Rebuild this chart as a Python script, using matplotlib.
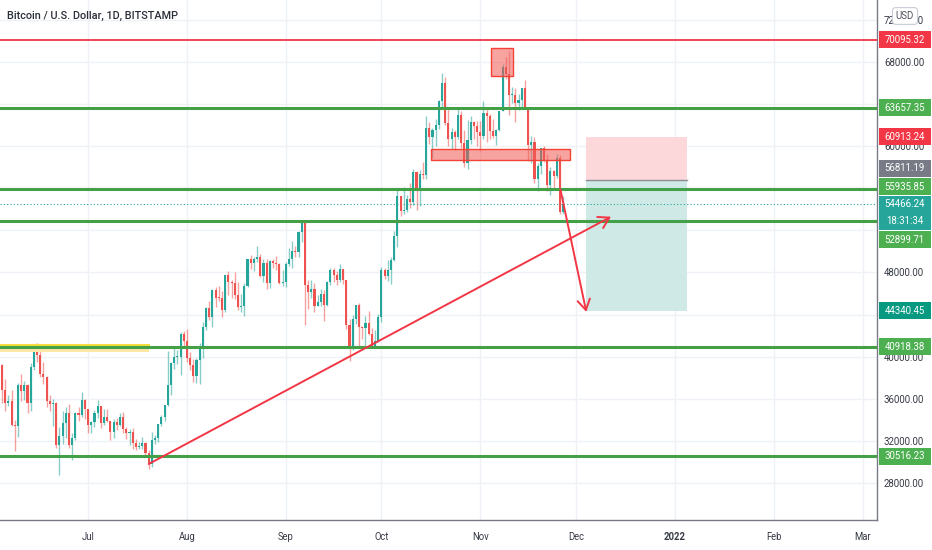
import numpy as np
import pandas as pd
import matplotlib
matplotlib.use('Agg')
import matplotlib.pyplot as plt
import matplotlib.dates as mdates
from matplotlib.patches import Rectangle
from matplotlib import font_manager

# daily BTC/USD candles, Jun 2 - Nov 27 2021
opens = [36700, 37600, 39250, 36850, 35550, 35800, 33550, 33400, 37350, 36700, 37340, 35550, 39020, 40520, 40150,
         38350, 38090, 35820, 35490, 35600, 31640, 32500, 33690, 34660, 31600, 32240, 34650, 34440, 35870,
         35040, 33540, 33820, 34660, 35310, 33700, 34230, 33860, 32880, 33800, 33510, 34260, 33090, 32730, 32820,
         31780, 31420, 31520, 31780, 30840, 29800, 32110, 32310, 33590, 34260, 35380, 37300, 39430, 40000, 40000, 42200,
         41470, 39900, 39170, 38180, 39700, 40900, 42800, 44600, 43800, 46300, 45600, 45570, 44430, 47800, 47100,
         47000, 45900, 44700, 44800, 46700, 49300, 48900, 49300, 49500, 47700, 48900, 47000, 49100, 48900, 48800, 47000,
         47100, 48800, 49300, 50000, 49900, 51800, 52700, 46800, 46100, 46400, 44800, 45200, 46000, 44900, 47100,
         48200, 47800, 47300, 48300, 47300, 43000, 40700, 43600, 44900, 42800, 42700, 43200, 42200, 41000, 41500,
         43800, 48200, 47700, 48200, 49200, 51500, 55300, 53800, 53900, 55000, 54700, 57500, 56000, 57400, 57300,
         61700, 60900, 61500, 62000, 64300, 66000, 62200, 60700, 61300, 60900, 63000, 60300, 58400, 60600, 62300, 61900,
         61300, 61000, 63200, 62900, 61400, 61000, 61500, 63300, 67500, 66900, 64900, 64900, 64100, 64400, 65500,
         63600, 60100, 60400, 56900, 58100, 59800, 58700, 56300, 57600, 57200, 58900, 53700]
highs = [38200, 39500, 39300, 37900, 36400, 36800, 34000, 37500, 38400, 37700, 37450, 39400, 41000, 41300, 40500,
         39500, 38200, 36400, 36000, 35700, 33300, 34800, 35200, 35500, 32700, 34700, 35200, 36600, 36000,
         35050, 33900, 34900, 35900, 35310, 35000, 35000, 33900, 34100, 34200, 34600, 34700, 33300, 33100, 33200,
         32200, 31900, 32400, 31900, 31100, 32800, 32600, 33600, 34500, 35400, 40500, 39500, 40900, 40600, 42300, 42400,
         42600, 40400, 39800, 39900, 41300, 43300, 44700, 45300, 46400, 46600, 46700, 46200, 47800, 48100, 47300,
         48000, 47100, 46000, 47000, 49300, 49700, 49500, 50500, 49800, 49300, 49300, 49200, 49300, 49600, 48900,
         48200, 49000, 50300, 51000, 50500, 51900, 52800, 52900, 47300, 47300, 47000, 45900, 46400, 46300, 47200,
         48400, 48400, 48100, 48800, 48300, 47300, 43600, 44000, 44900, 45100, 42900, 43900, 44300, 42700, 42500,
         44100, 48500, 48400, 49200, 49500, 51900, 55800, 55300, 56100, 55400, 56500, 57800, 57600, 57700, 58500,
         62900, 62300, 61700, 62600, 64400, 67000, 66600, 63700, 61700, 61500, 63700, 63300, 61500, 62500, 62900, 62400,
         62400, 62400, 64300, 63500, 63100, 62600, 61600, 63300, 67800, 68500, 69000, 65600, 65500, 65000, 65500,
         66300, 63600, 61000, 60900, 58400, 59800, 60000, 59300, 58000, 57700, 59300, 59200, 55300]
lows = [35900, 37200, 35600, 34800, 35300, 33400, 31000, 32400, 35800, 35900, 34600, 34800, 38750, 39500, 38100,
        37400, 35200, 34800, 33400, 31300, 28800, 31700, 32300, 31300, 30200, 32100, 33900, 34300, 34100,
        32700, 32700, 33300, 34200, 33200, 33500, 33800, 32100, 32300, 33000, 33400, 32700, 32200, 31600, 31200,
        31100, 31200, 31200, 30500, 29300, 29500, 31700, 31900, 33400, 33900, 35300, 36400, 38800, 39300, 38300, 41000,
        39500, 38700, 37600, 37500, 37400, 39900, 42500, 43500, 42800, 44700, 45300, 43800, 44200, 45900, 45600,
        45500, 44400, 44200, 43900, 46600, 48300, 48100, 49000, 47600, 47100, 46400, 46500, 48400, 48200, 46900,
        46700, 46600, 48600, 48400, 49500, 49500, 50900, 43000, 44500, 45600, 44200, 44800, 44800, 43400, 44800,
        46800, 47100, 46800, 47100, 46900, 42600, 39600, 40600, 43100, 40900, 41700, 40800, 42100, 40900, 40800,
        41400, 43300, 47400, 47200, 46900, 49100, 50400, 53400, 53600, 53700, 54100, 54400, 53900, 54300, 56900,
        56900, 60200, 58900, 60000, 61600, 63500, 62000, 60000, 59700, 59600, 60700, 59800, 58000, 57800, 60200, 60700,
        60000, 59500, 60700, 60400, 60700, 60800, 60100, 61400, 63300, 66400, 63000, 64100, 62300, 63400, 63600,
        63500, 58600, 58400, 56500, 55700, 57400, 58500, 55700, 55400, 55900, 57000, 53600, 53600]
closes = [37600, 39250, 36850, 35550, 35800, 33550, 33400, 37350, 36700, 37340, 35550, 39020, 40520, 40150, 38350,
          38090, 35820, 35490, 35600, 31640, 32500, 33690, 34660, 31600, 32240, 34650, 34440, 35870, 35040,
          33540, 33820, 34660, 35310, 33700, 34230, 33860, 32880, 33800, 33510, 34260, 33090, 32730, 32820, 31780,
          31420, 31520, 31780, 30840, 29800, 32110, 32310, 33590, 34260, 35380, 37300, 39430, 40000, 40000, 42200, 41470,
          39900, 39170, 38180, 39700, 40900, 42800, 44600, 43800, 46300, 45600, 45570, 44430, 47800, 47100, 47000,
          45900, 44700, 44800, 46700, 49300, 48900, 49300, 49500, 47700, 48900, 47000, 49100, 48900, 48800, 47000,
          47100, 48800, 49300, 50000, 49900, 51800, 52700, 46800, 46100, 46400, 44800, 45200, 46000, 44900, 47100,
          48200, 47800, 47300, 48300, 47300, 43000, 40700, 43600, 44900, 42800, 42700, 43200, 42200, 41000, 41500,
          43800, 48200, 47700, 48200, 49200, 51500, 55300, 53800, 53900, 55000, 54700, 57500, 56000, 57400, 57300,
          61700, 60900, 61500, 62000, 64300, 66000, 62200, 60700, 61300, 60900, 63000, 60300, 58400, 60600, 62300, 61900,
          61300, 61000, 63200, 62900, 61400, 61000, 61500, 63300, 67500, 66900, 64900, 64900, 64100, 64400, 65500,
          63600, 60100, 60400, 56900, 58100, 59800, 58700, 56300, 57600, 57200, 58900, 53700, 54466.24]
dates = pd.date_range('2021-06-02', periods=len(closes), freq='D')

# horizontal levels drawn on the chart
levels = [70095.32, 63657.35, 55935.85, 52899.71, 40918.38, 30516.23]
level_colors = ['red', 'green', 'green', 'green', 'green', 'green']

# position tool (short): stop, entry, target
pos_start, pos_end = '2021-12-04', '2022-01-04 18:00'
stop_price, entry_price, target_price = 60913.24, 56811.19, 44340.45
last_price = 54466.24
countdown = '18:31:34'

# red boxes: (start, end, low, high)
boxes = [('2021-11-04 10:00', '2021-11-11 08:00', 66667, 69333),
         ('2021-10-16 14:00', '2021-11-29 02:00', 58667, 59714)]
# yellow zone
zone = ('2021-05-01', '2021-07-20 00:00', 40450, 41110)
# arrows: (start date, start price, end date, end price)
arrows = [('2021-07-20', 29800, '2021-12-12', 53300),
          ('2021-11-26 03:00', 55900, '2021-12-04 06:00', 44250)]

yticks = np.arange(28000, 72001, 4000)
hidden_ticks = [44000, 52000, 56000, 64000]   # fully covered by the price tags
month_ticks = ['2021-07-01', '2021-08-01', '2021-09-01', '2021-10-01', '2021-11-01',
               '2021-12-01', '2022-01-01', '2022-02-01', '2022-03-01']
month_labels = ['Jul', 'Aug', 'Sep', 'Oct', 'Nov', 'Dec', '2022', 'Feb', 'Mar']

GREEN = '#26a69a'
RED = '#ef5350'
LGREEN = '#4caf50'

names = {f.name for f in font_manager.fontManager.ttflist}
FONT = 'Roboto' if 'Roboto' in names else 'DejaVu Sans'
plt.rcParams['font.family'] = [FONT, 'DejaVu Sans']

fig = plt.figure(figsize=(9.32, 5.5), dpi=100)
ax = fig.add_axes([0, 30 / 550, 877 / 932, 520 / 550])

x = mdates.date2num(dates)
o = np.array(opens, float)
h = np.array(highs, float)
l = np.array(lows, float)
c = np.array(closes, float)
col = np.where(c >= o, GREEN, RED)

ax.vlines(x, l, h, colors=col, lw=1, alpha=0.55, zorder=2)
body = np.maximum(np.abs(c - o), 60)
ax.bar(x, body, bottom=np.minimum(o, c), width=0.66, color=col, zorder=3)

for lv, lc in zip(levels, level_colors):
    if lc == 'red':
        ax.axhline(lv, color='#f23645', lw=1.3, zorder=4)
    else:
        ax.axhline(lv, color='#43a047', lw=2.2, zorder=4)

# yellow zone
zx0, zx1 = mdates.datestr2num(zone[0]), mdates.datestr2num(zone[1])
ax.add_patch(Rectangle((zx0, zone[2]), zx1 - zx0, zone[3] - zone[2],
                       facecolor='#fbe7a6', edgecolor='none', zorder=3.5))
ax.plot([zx0, zx1], [zone[3], zone[3]], color='#f5dd3c', lw=1.5, zorder=3.6)

# red boxes
for b0, b1, lo, hi in boxes:
    bx0, bx1 = mdates.datestr2num(b0), mdates.datestr2num(b1)
    ax.add_patch(Rectangle((bx0, lo), bx1 - bx0, hi - lo, facecolor=(0.95, 0.35, 0.33, 0.55),
                           edgecolor='#f44336', lw=1.0, zorder=5))

# position tool
px0, px1 = mdates.datestr2num(pos_start), mdates.datestr2num(pos_end)
ax.add_patch(Rectangle((px0, entry_price), px1 - px0, stop_price - entry_price,
                       facecolor='#fdd8da', edgecolor='none', zorder=1.5))
ax.add_patch(Rectangle((px0, target_price), px1 - px0, entry_price - target_price,
                       facecolor='#cfeae6', edgecolor='none', zorder=1.5))
ax.plot([px0, px1], [entry_price, entry_price], color='#8a8d96', lw=1, zorder=1.6)

# arrows
for d0, p0, d1, p1 in arrows:
    ax.annotate('', xy=(mdates.datestr2num(d1), p1), xytext=(mdates.datestr2num(d0), p0),
                arrowprops=dict(arrowstyle='->,head_length=0.75,head_width=0.45',
                                color='#f23645', lw=1.4, shrinkA=0, shrinkB=0), zorder=6)

# current price line
ax.axhline(last_price, color=GREEN, lw=0.8, linestyle=(0, (1, 2)), zorder=2.5)

ymin, ymax = 24480, 73890
ax.set_xlim(mdates.datestr2num('2021-06-03 09:00'), mdates.datestr2num('2022-03-05 10:00'))
ax.set_ylim(ymin, ymax)
per_px = (ymax - ymin) / 520.0

# grid
for m in month_ticks:
    ax.axvline(mdates.datestr2num(m), color='#eef1f6', lw=1, zorder=0)
for t in yticks:
    ax.axhline(t, color='#eef1f6', lw=1, zorder=0)

ax.yaxis.tick_right()
ax.set_yticks(yticks)
ax.set_yticklabels(['' if t in hidden_ticks else '%.2f' % t for t in yticks], color='#363a45', fontsize=7)
ax.set_xticks([mdates.datestr2num(m) for m in month_ticks])
ax.set_xticklabels(month_labels, color='#363a45', fontsize=7)
for lab in ax.get_xticklabels():
    if lab.get_text() == '2022':
        lab.set_fontweight('bold')
ax.tick_params(axis='both', length=0)
ax.tick_params(axis='y', pad=5)
ax.tick_params(axis='x', pad=9)
for s in ['top', 'left']:
    ax.spines[s].set_visible(False)
for s in ['right', 'bottom']:
    ax.spines[s].set_color('#787b86')
    ax.spines[s].set_linewidth(1)

title = fig.text(7 / 932, 1 - 16 / 550, 'Bitcoin / U.S. Dollar, 1D, BITSTAMP', ha='left', va='center',
                 fontsize=8, fontweight='medium', color='#2a2e39')

# size the small texts so they take the same width as on the reference
fig.canvas.draw()
rend = fig.canvas.get_renderer()


def fitted(artist, target):
    w = artist.get_window_extent(rend).width
    return artist.get_fontsize() * target / w


tick_fs = fitted(ax.get_yticklabels()[10], 40)
for lab in ax.get_yticklabels():
    lab.set_fontsize(tick_fs)
x_fs = fitted(ax.get_xticklabels()[6], 22)
for lab in ax.get_xticklabels():
    lab.set_fontsize(x_fs)
title.set_fontsize(fitted(title, 170))

# price labels on the right scale (TradingView nudges labels that would collide)
tr = ax.get_yaxis_transform()
bw = 52 / 877
half = 8.5 * per_px
scale_labels = [(70095.32, '#f23645', 0), (63657.35, LGREEN, 0), (stop_price, '#f23645', 0),
                (entry_price, '#787b86', 11.5), (55935.85, LGREEN, 2), (52899.71, LGREEN, -19),
                (target_price, '#089981', 0), (40918.38, LGREEN, 0), (30516.23, LGREEN, 0)]
for p, fc, shift in scale_labels:
    yc = p + shift * per_px
    ax.add_patch(Rectangle((1.002, yc - half), bw, 2 * half, transform=tr, facecolor=fc,
                           edgecolor='none', clip_on=False, zorder=10))
    ax.text(1.002 + bw / 2, yc, '%.2f' % p, transform=tr, ha='center', va='center',
            color='white', fontsize=tick_fs, clip_on=False, zorder=11)
# last price with countdown
ax.add_patch(Rectangle((1.002, last_price - 26 * per_px), bw, 34 * per_px, transform=tr,
                       facecolor=GREEN, edgecolor='none', clip_on=False, zorder=10))
ax.text(1.002 + bw / 2, last_price, '%.2f' % last_price, transform=tr, ha='center', va='center',
        color='white', fontsize=tick_fs, clip_on=False, zorder=11)
ax.text(1.002 + bw / 2, last_price - 16.5 * per_px, countdown, transform=tr, ha='center',
        va='center', color='white', fontsize=tick_fs, clip_on=False, zorder=11)

fig.text(905 / 932, 1 - 16 / 550, 'USD', ha='center', va='center', fontsize=tick_fs,
         color='#50535e', zorder=12,
         bbox=dict(boxstyle='round,pad=0.35', facecolor='white', edgecolor='#c9ccd4', lw=0.8))

fig.savefig('out.png', dpi=100)
